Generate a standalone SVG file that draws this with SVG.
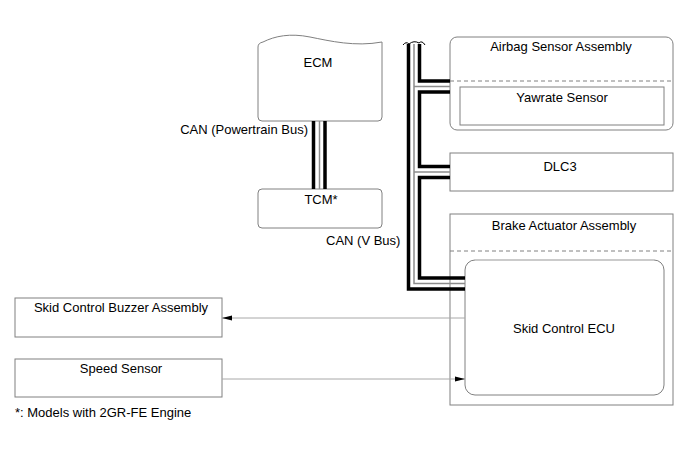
<svg xmlns="http://www.w3.org/2000/svg" width="690" height="465" viewBox="0 0 690 465">
<defs>
<style>
.box{fill:#fff;stroke:#808080;stroke-width:1}
.dash{fill:none;stroke:#808080;stroke-width:1;stroke-dasharray:4 3}
.t{font-family:"Liberation Sans",Arial,sans-serif;font-size:13px;fill:#000}
.c{text-anchor:middle}
.bk{fill:none;stroke:#000;stroke-width:3.5;stroke-linejoin:miter}
.gr{fill:none;stroke:#8c8c8c;stroke-width:1.5;stroke-linejoin:miter}
.sig{fill:none;stroke:#a8a8a8;stroke-width:1}
</style>
<marker id="ah" markerWidth="10" markerHeight="6" refX="10" refY="3" orient="auto" markerUnits="userSpaceOnUse">
<path d="M0,0.5 L10,3 L0,5.5 Z" fill="#000"/>
</marker>
</defs>
<rect width="690" height="465" fill="#fff"/>

<g id="ecm">
<path class="box" d="M262,121 Q258,121 258,117 V47 Q258,43 263,42 C275,36 290,33 310,37 C330,41 355,47 382,42 V117 Q382,121 378,121 Z"/>
<text class="t c" x="318" y="67">ECM</text>
</g>

<g id="tcm">
<rect class="box" x="258" y="189" width="124" height="39" rx="4"/>
<text class="t c" x="321" y="204">TCM*</text>
</g>

<g id="airbag">
<rect class="box" x="450" y="37" width="223" height="93" rx="7"/>
<line class="dash" x1="450" y1="81" x2="673" y2="81"/>
<text class="t c" x="561" y="51">Airbag Sensor Assembly</text>
<g id="yawrate">
<rect class="box" x="460" y="87" width="204" height="38"/>
<text class="t c" x="562" y="102">Yawrate Sensor</text>
</g>
</g>

<g id="dlc3">
<rect class="box" x="450" y="153" width="223" height="38"/>
<text class="t c" x="560" y="171">DLC3</text>
</g>

<g id="brake">
<rect class="box" x="450" y="214" width="223" height="191"/>
<line class="dash" x1="450" y1="251" x2="673" y2="251"/>
<text class="t c" x="564" y="230">Brake Actuator Assembly</text>
<g id="skidecu">
<rect class="box" x="465" y="260" width="199" height="135" rx="10"/>
<line x1="475" y1="260" x2="654" y2="260" stroke="#cfcfcf" stroke-width="1.5"/>
<text class="t c" x="564" y="333">Skid Control ECU</text>
</g>
</g>

<g id="buzzer">
<rect class="box" x="15" y="298" width="207" height="39"/>
<text class="t c" x="121" y="312">Skid Control Buzzer Assembly</text>
</g>

<g id="speed">
<rect class="box" x="15" y="359" width="207" height="38"/>
<text class="t c" x="121" y="373">Speed Sensor</text>
</g>

<g id="connectors">
<line class="bk" x1="313.5" y1="121" x2="313.5" y2="189"/>
<line class="gr" x1="319.5" y1="121" x2="319.5" y2="189"/>
<line class="bk" x1="325" y1="121" x2="325" y2="189"/>
<text class="t" x="308" y="134" text-anchor="end">CAN (Powertrain Bus)</text>
<path class="bk" d="M408.5,44 V289 H465"/>
<path class="gr" d="M414,44 V283.5 H465"/>
<path class="gr" d="M414,86.5 H450"/>
<path class="gr" d="M414,172 H450"/>
<path class="bk" d="M419.5,44 V81 H450"/>
<path class="bk" d="M450,92 H419.5 V166.5 H450"/>
<path class="bk" d="M450,177.5 H419.5 V278 H465"/>
<path d="M403,45 Q406,41 409,44 Q414,40 419,43 Q422,40 425,45" fill="none" stroke="#000" stroke-width="1"/>
<text class="t" x="326" y="245">CAN (V Bus)</text>
<line class="sig" x1="465" y1="318" x2="222" y2="318" marker-end="url(#ah)"/>
<line class="sig" x1="222" y1="379" x2="465" y2="379" marker-end="url(#ah)"/>
</g>

<text class="t" x="15" y="417">*: Models with 2GR-FE Engine</text>
</svg>
